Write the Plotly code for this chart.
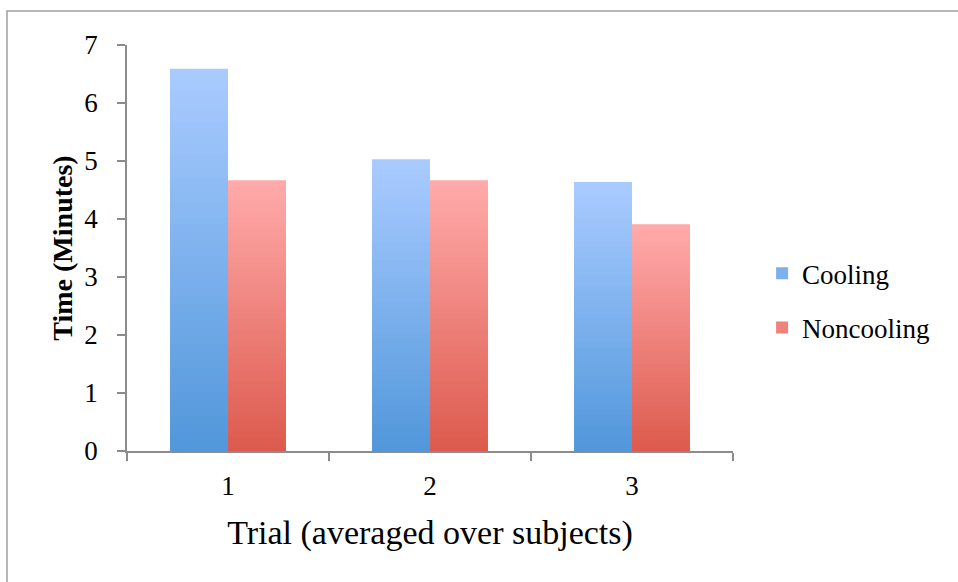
import plotly.graph_objects as go

# Mean time per trial, averaged over subjects
trials = ["1", "2", "3"]
cooling = [6.59, 5.03, 4.64]
noncooling = [4.67, 4.67, 3.91]
series_names = ["Cooling", "Noncooling"]

# vertical gradient colours (bottom -> top) for each series
grad = {
    "Cooling": ((80, 150, 218), (169, 203, 255)),
    "Noncooling": ((220, 89, 76), (255, 170, 170)),
}

N_STEPS = 48
OVERLAP = 0.6  # fraction of a step each slice reaches down under the previous one
FONT = "Liberation Serif"


def mix(c0, c1, t):
    return "rgb(%d,%d,%d)" % tuple(round(a + (b - a) * t) for a, b in zip(c0, c1))


fig = go.Figure()

for name, vals in zip(series_names, [cooling, noncooling]):
    lo, hi = grad[name]
    for i in range(N_STEPS):
        t = (i + 0.5) / N_STEPS
        ext = OVERLAP if i > 0 else 0.0
        fig.add_trace(go.Bar(
            x=trials,
            y=[v * (1 + ext) / N_STEPS for v in vals],
            base=[v * (i - ext) / N_STEPS for v in vals],
            offsetgroup=name,
            name=name,
            legendgroup=name,
            showlegend=(i == N_STEPS // 2),
            marker=dict(color=mix(lo, hi, t), line=dict(width=0)),
            hoverinfo="skip",
        ))

axis_col = "#8c8c8c"

fig.update_layout(
    width=958, height=582,
    margin=dict(l=127, r=225, t=45, b=131),
    paper_bgcolor="white", plot_bgcolor="white",
    barmode="group", bargap=0.426, bargroupgap=0.0,
    font=dict(family=FONT, color="black"),
    legend=dict(
        x=1.048, xanchor="left", y=0.37, yanchor="middle",
        font=dict(size=27, family=FONT, color="black"),
        traceorder="grouped", tracegroupgap=16,
        itemwidth=30, bgcolor="rgba(0,0,0,0)",
    ),
    xaxis=dict(
        type="category",
        showline=True, linecolor=axis_col, linewidth=1.5,
        ticks="outside", tickson="boundaries", ticklen=8, tickwidth=1.5,
        tickcolor=axis_col, showgrid=False,
        tickfont=dict(size=27, family=FONT, color="black"),
        ticklabelstandoff=10,
        title=dict(text="Trial (averaged over subjects)",
                   font=dict(size=34, family=FONT), standoff=20),
    ),
    yaxis=dict(
        range=[0, 7], dtick=1,
        showline=True, linecolor=axis_col, linewidth=1.5,
        ticks="outside", ticklen=8, tickwidth=1.5, tickcolor=axis_col,
        showgrid=False, zeroline=False,
        tickfont=dict(size=27, family=FONT, color="black"),
        ticklabelstandoff=14,
        title=dict(text="<b>Time (Minutes)</b>",
                   font=dict(size=28, family=FONT), standoff=4),
    ),
    shapes=[dict(
        type="rect", xref="paper", yref="paper", layer="below",
        x0=(7 - 127) / 606, x1=(975 - 127) / 606,
        y0=(451 - 600) / 406, y1=(451 - 11) / 406,
        line=dict(color="#a0a0a0", width=1.5), fillcolor="rgba(0,0,0,0)",
    )],
)

fig.write_html("out.html")
